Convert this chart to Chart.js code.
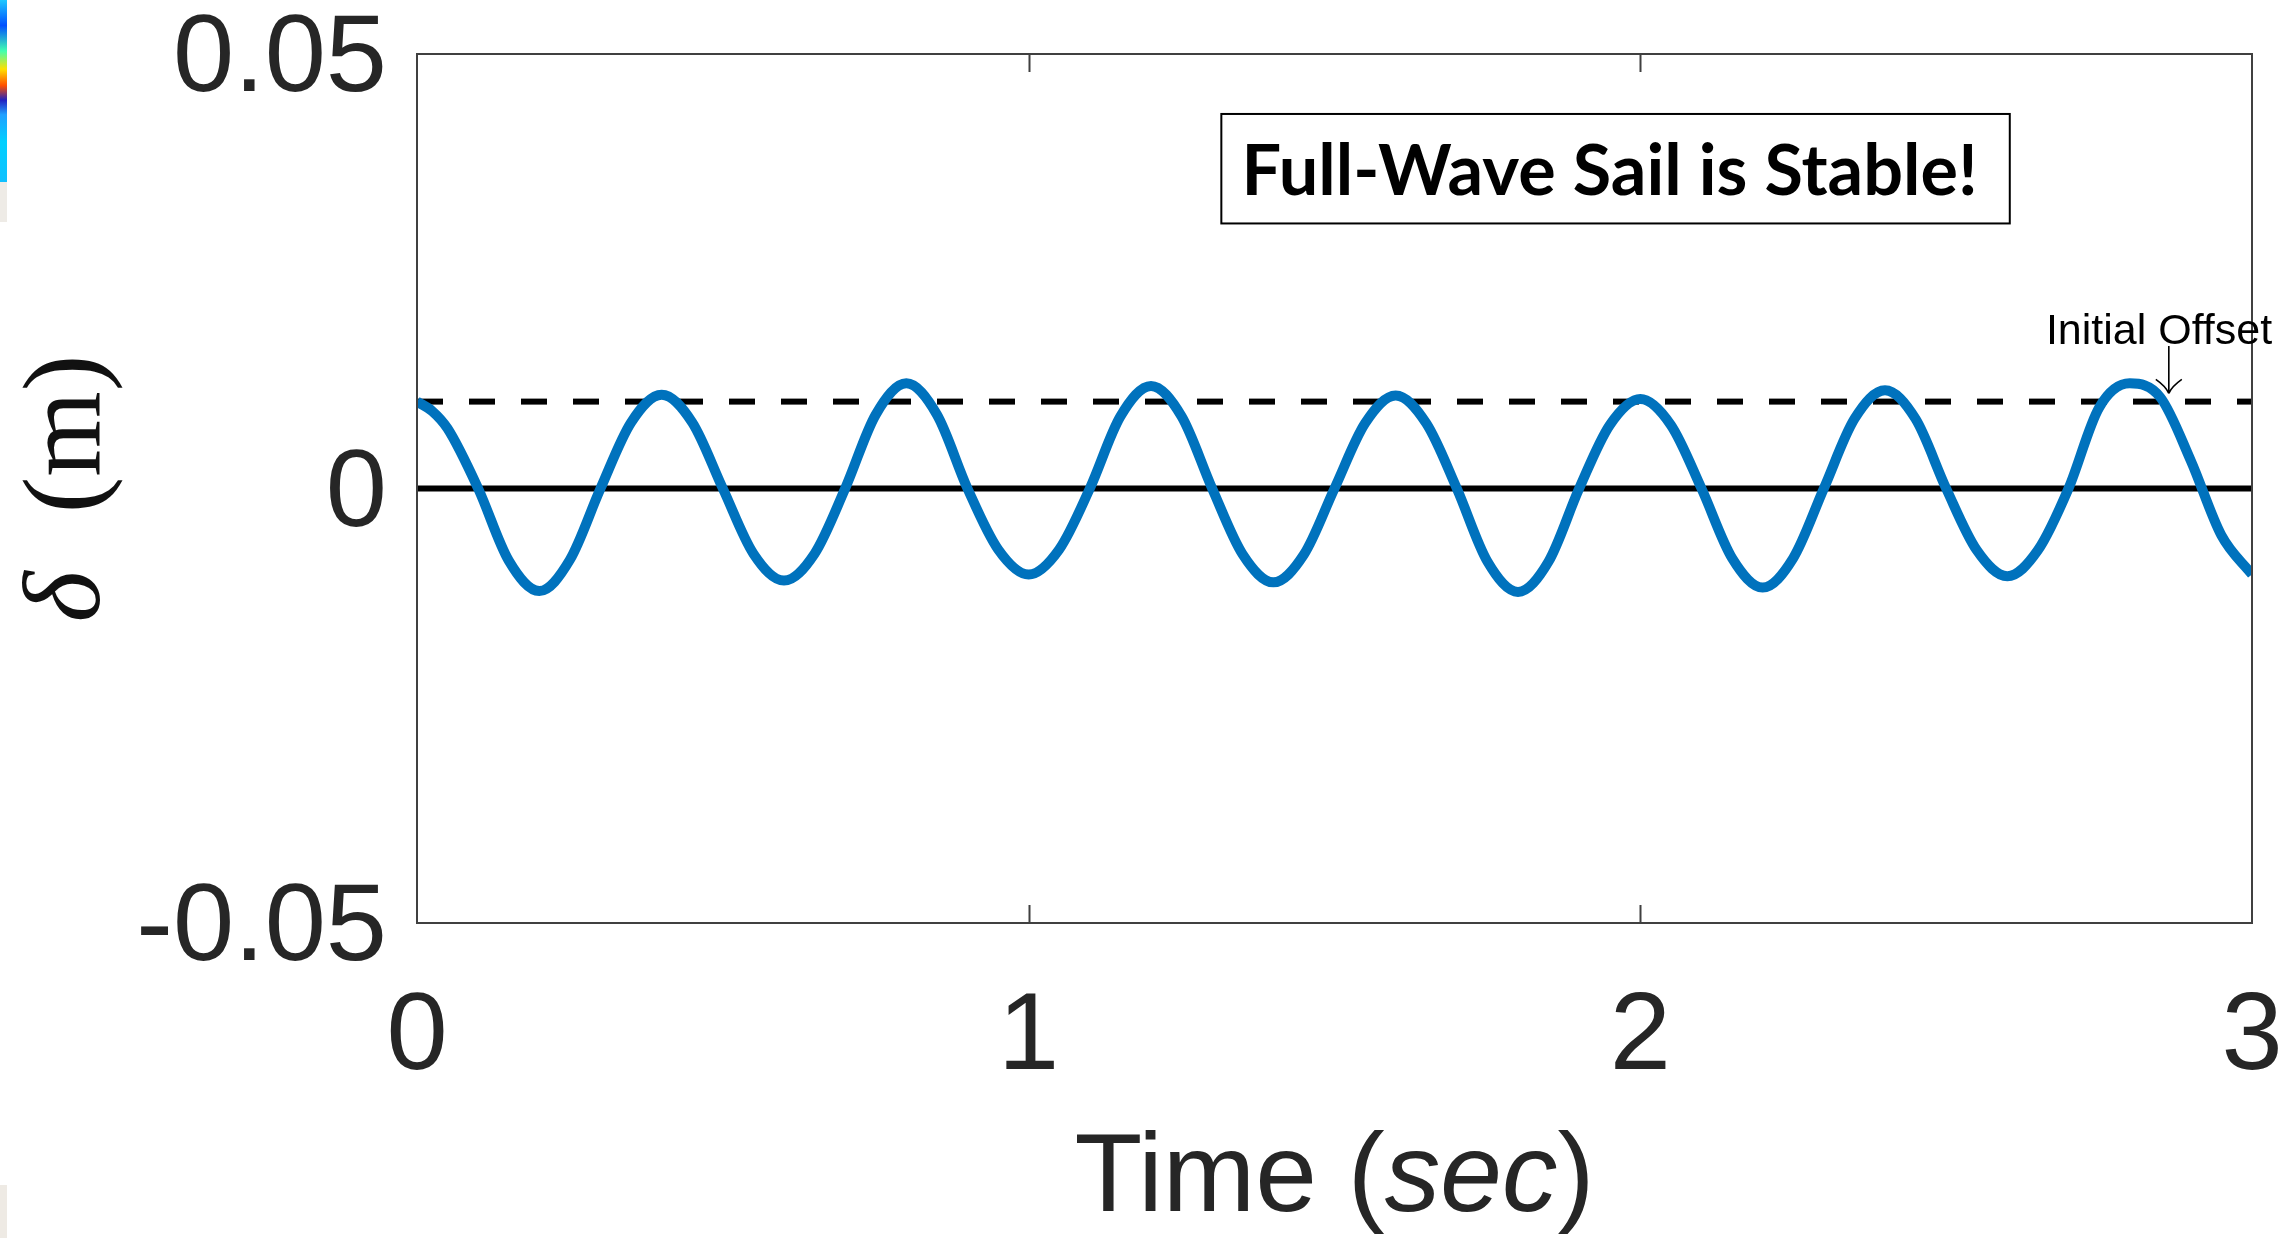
<!DOCTYPE html>
<html>
<head>
<meta charset="utf-8">
<script src="https://cdn.jsdelivr.net/npm/chart.js@4.4.0/dist/chart.umd.min.js"></script>
<style>
  html, body { margin: 0; padding: 0; background: #fff; }
  body { width: 2284px; height: 1238px; position: relative; overflow: hidden; }
  #grafico { position: absolute; left: 0; top: 0; }
  .tira { position: absolute; left: 0; width: 7px; }
</style>
</head>
<body>
<div class="tira" style="top:0;height:182px;background:linear-gradient(to bottom,#1ec8ff 0%,#0050ff 14%,#40ffb0 28%,#ffe000 38%,#ff5000 47%,#2020c0 55%,#20a0ff 63%,#00d0ff 78%,#10c0ff 100%)"></div>
<div class="tira" style="top:182px;height:40px;background:#eeebe6"></div>
<div class="tira" style="top:1185px;height:53px;background:#eeeae4"></div>
<canvas id="grafico" width="2284" height="1238"></canvas>
<script>
// tempo (s) e deslocamento (m)
const tempo = [
  0.00, 0.025, 0.05, 0.10, 0.15, 0.20, 0.25, 0.30, 0.35, 0.40, 0.45,
  0.50, 0.55, 0.60, 0.65, 0.70, 0.75, 0.80, 0.85, 0.90, 0.95,
  1.00, 1.05, 1.10, 1.15, 1.20, 1.25, 1.30, 1.35, 1.40, 1.45,
  1.50, 1.55, 1.60, 1.65, 1.70, 1.75, 1.80, 1.85, 1.90, 1.95,
  2.00, 2.05, 2.10, 2.15, 2.20, 2.25, 2.30, 2.35, 2.40, 2.45,
  2.50, 2.55, 2.60, 2.65, 2.70, 2.75, 2.80, 2.85, 2.90, 2.95,
  3.00
];
const deslocamento = [
  0.0100, 0.0089, 0.0069, 0.0000, -0.0083, -0.0118, -0.0082, 0.0000, 0.0076, 0.0108, 0.0076,
  0.0000, -0.0075, -0.0106, -0.0075, 0.0000, 0.0085, 0.0121, 0.0085, 0.0000, -0.0070,
  -0.0099, -0.0070, 0.0000, 0.0083, 0.0118, 0.0083, 0.0000, -0.0076, -0.0108, -0.0076,
  0.0000, 0.0075, 0.0107, 0.0075, 0.0000, -0.0084, -0.0119, -0.0084, 0.0000, 0.0073,
  0.0103, 0.0073, 0.0000, -0.0080, -0.0114, -0.0080, 0.0000, 0.0080, 0.0113, 0.0080,
  0.0000, -0.0071, -0.0101, -0.0071, 0.0000, 0.0093, 0.0121, 0.0105, 0.0032, -0.0054,
  -0.0099
];
const extremosTempo = [0, 3];
const linhaZero = [0, 0];
const offsetInicial = [0.01, 0.01];

const ticksX = [0, 1, 2, 3];
const rotulosX = ['0', '1', '2', '3'];
const ticksY = [-0.05, 0, 0.05];
const rotulosY = ['-0.05', '0', '0.05'];

const textoCaixa = 'Full-Wave Sail is Stable!';
const textoSeta = 'Initial Offset';

// posicoes das anotacoes em coordenadas dos eixos
const caixa = { x1: 1.315, x2: 2.604, y1: 0.0431, y2: 0.0305, largTexto: 736 };
const seta = { x: 2.864, yIni: 0.0164, yFim: 0.01095, textoX: 2.848, textoY: 0.0180 };

const corTexto = '#262626';

const moldura = {
  id: 'moldura',
  afterDatasetsDraw(chart) {
    const { ctx, chartArea: a, scales: { x, y } } = chart;
    ctx.save();

    // caixa dos eixos
    ctx.strokeStyle = '#404040';
    ctx.lineWidth = 2;
    ctx.strokeRect(a.left, a.top, a.right - a.left, a.bottom - a.top);
    ticksX.slice(1, -1).forEach(v => {
      const px = Math.round(x.getPixelForValue(v)) + 0.5;
      ctx.beginPath();
      ctx.moveTo(px, a.bottom); ctx.lineTo(px, a.bottom - 18);
      ctx.moveTo(px, a.top); ctx.lineTo(px, a.top + 18);
      ctx.stroke();
    });

    // caixa de texto
    const bx1 = x.getPixelForValue(caixa.x1), bx2 = x.getPixelForValue(caixa.x2);
    const by1 = y.getPixelForValue(caixa.y1), by2 = y.getPixelForValue(caixa.y2);
    ctx.fillStyle = '#fff';
    ctx.fillRect(bx1, by1, bx2 - bx1, by2 - by1);
    ctx.strokeStyle = '#000';
    ctx.lineWidth = 2;
    ctx.strokeRect(bx1, by1, bx2 - bx1, by2 - by1);
    ctx.font = 'bold 100px Lato';
    const tam = 100 * caixa.largTexto / ctx.measureText(textoCaixa).width;
    ctx.font = 'bold ' + tam.toFixed(1) + 'px Lato';
    ctx.fillStyle = '#000';
    ctx.textAlign = 'center';
    ctx.textBaseline = 'middle';
    ctx.fillText(textoCaixa, (bx1 + bx2) / 2 - 6, (by1 + by2) / 2 + 4);

    // seta "Initial Offset"
    const sx = x.getPixelForValue(seta.x);
    const sy1 = y.getPixelForValue(seta.yIni), sy2 = y.getPixelForValue(seta.yFim);
    ctx.strokeStyle = '#000';
    ctx.lineWidth = 1.6;
    ctx.beginPath();
    ctx.moveTo(sx, sy1); ctx.lineTo(sx, sy2);
    ctx.moveTo(sx - 13, sy2 - 14); ctx.quadraticCurveTo(sx - 3, sy2 - 7, sx, sy2);
    ctx.moveTo(sx + 13, sy2 - 14); ctx.quadraticCurveTo(sx + 3, sy2 - 7, sx, sy2);
    ctx.stroke();
    ctx.font = '43px "Liberation Sans"';
    ctx.fillStyle = '#000';
    ctx.fillText(textoSeta, x.getPixelForValue(seta.textoX), y.getPixelForValue(seta.textoY));

    // titulo do eixo x: Time (sec)
    const partesX = [['Time (', 'normal'], ['sec', 'italic'], [')', 'normal']];
    const fonteX = st => st + ' 111px "Liberation Sans"';
    let total = 0;
    partesX.forEach(p => { ctx.font = fonteX(p[1]); total += ctx.measureText(p[0]).width; });
    let cx = (a.left + a.right) / 2 - total / 2;
    ctx.textAlign = 'left';
    ctx.fillStyle = corTexto;
    partesX.forEach(p => {
      ctx.font = fonteX(p[1]);
      ctx.fillText(p[0], cx, chart.height - 58);
      cx += ctx.measureText(p[0]).width;
    });

    // titulo do eixo y: δ (m)
    const partesY = [['δ', 'italic'], ['(m)', 'normal']];
    const fonteY = st => st + ' 110px "Liberation Serif"';
    const espaco = 58;
    total = espaco;
    partesY.forEach(p => { ctx.font = fonteY(p[1]); total += ctx.measureText(p[0]).width; });
    ctx.translate(70, (a.top + a.bottom) / 2);
    ctx.rotate(-Math.PI / 2);
    cx = -total / 2;
    ctx.fillStyle = '#111';
    partesY.forEach(p => {
      ctx.font = fonteY(p[1]);
      ctx.fillText(p[0], cx, 0);
      cx += ctx.measureText(p[0]).width + espaco;
    });

    ctx.restore();
  }
};

const ctx = document.getElementById('grafico').getContext('2d');
new Chart(ctx, {
  type: 'line',
  data: {
    datasets: [
      {
        label: 'delta',
        data: tempo.map((t, i) => ({ x: t, y: deslocamento[i] })),
        borderColor: '#0072BD',
        borderWidth: 10,
        pointRadius: 0,
        cubicInterpolationMode: 'monotone',
        order: 0
      },
      {
        label: 'offset',
        data: extremosTempo.map((t, i) => ({ x: t, y: offsetInicial[i] })),
        borderColor: '#000',
        borderWidth: 6,
        borderDash: [26, 26],
        pointRadius: 0,
        order: 1
      },
      {
        label: 'zero',
        data: extremosTempo.map((t, i) => ({ x: t, y: linhaZero[i] })),
        borderColor: '#000',
        borderWidth: 6,
        pointRadius: 0,
        order: 2
      }
    ]
  },
  options: {
    responsive: false,
    devicePixelRatio: 1,
    animation: false,
    layout: { padding: { top: 54, right: 32, left: 0, bottom: 0 } },
    plugins: { legend: { display: false }, tooltip: { enabled: false } },
    scales: {
      x: {
        type: 'linear',
        min: 0,
        max: 3,
        afterFit(s) { s.height = 315; s.paddingLeft = 0; s.paddingRight = 0; },
        afterBuildTicks(s) { s.ticks = ticksX.map(v => ({ value: v })); },
        grid: { display: false },
        border: { display: false },
        ticks: {
          color: corTexto,
          font: { family: 'Liberation Sans', size: 110 },
          padding: 42,
          maxRotation: 0,
          callback: v => rotulosX[ticksX.indexOf(v)]
        }
      },
      y: {
        type: 'linear',
        min: -0.05,
        max: 0.05,
        afterFit(s) { s.width = 417; s.paddingTop = 0; s.paddingBottom = 0; },
        afterBuildTicks(s) { s.ticks = ticksY.map(v => ({ value: v })); },
        grid: { display: false },
        border: { display: false },
        ticks: {
          color: corTexto,
          font: { family: 'Liberation Sans', size: 110 },
          padding: 22,
          labelOffset: 7,
          callback: v => rotulosY[ticksY.indexOf(v)]
        }
      }
    }
  },
  plugins: [moldura]
});
</script>
</body>
</html>
